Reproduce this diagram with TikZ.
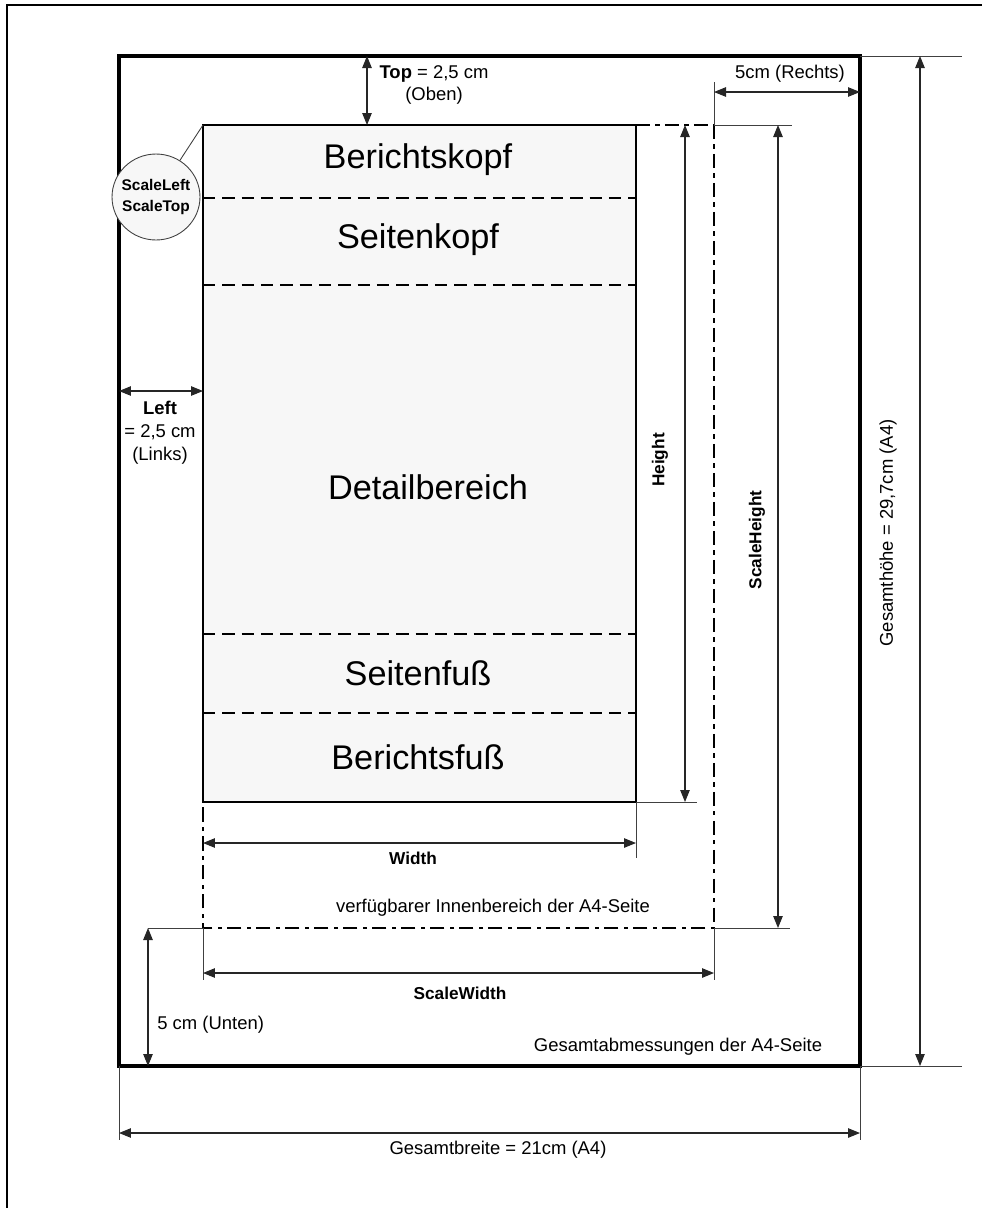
\documentclass[tikz,border=0pt]{standalone}
\usepackage{fontspec}
\setmainfont{Liberation Sans}
\usetikzlibrary{arrows.meta,shapes.geometric}

\begin{document}
\begin{tikzpicture}[x=0.02cm,y=-0.02cm]

\tikzstyle{every node}=[inner sep=0pt,anchor=center,font=\fontsize{10.5}{13}\selectfont];
\tikzstyle{dim}=[{Triangle[length=2.4mm,width=1.9mm]}-{Triangle[length=2.4mm,width=1.9mm]},line width=0.6pt,black!85]
\tikzstyle{ext}=[line width=0.5pt,black!75]
\tikzstyle{section}=[font=\fontsize{19.5}{24}\selectfont]
\tikzstyle{boldlbl}=[font=\fontsize{9.8}{12.5}\selectfont\bfseries]
\tikzstyle{sep}=[dash pattern=on 7pt off 4pt,line width=0.8pt]
\tikzstyle{scaleline}=[dash pattern=on 8pt off 3pt on 2.5pt off 3pt,line width=1.2pt]

\useasboundingbox (0,0) rectangle (982,1208);

% Outer frame (cut off at right and bottom)
\draw[line width=0.6pt] (7,1208) -- (7,5) -- (982,5);

% Corners of the areas
\coordinate (a4nw) at (119,56);
\coordinate (a4se) at (860,1066);
\coordinate (repnw) at (203,125);
\coordinate (repse) at (636,802);
\coordinate (scase) at (714,928);

% Report area with its sections
\draw[fill=black!3,line width=1.5pt] (repnw) rectangle (repse);
\foreach \y in {198,285,634,713}
  \draw[sep] (203,\y) -- (636,\y);

\node[section] (rkopf) at (418,160) {Berichtskopf};
\node[section] (skopf) at (418,240) {Seitenkopf};
\node[section] (detail) at (428,487) {Detailbereich};
\node[section] (sfuss) at (418,673) {Seitenfuß};
\node[section] (rfuss) at (418,757) {Berichtsfuß};

% A4 page
\draw[line width=1.8pt] (a4nw) rectangle (a4se);

% Usable inner area
\draw[scaleline] (repse |- repnw) -- (scase |- repnw);
\draw[scaleline] (scase |- repnw) -- (scase) -- (scase -| repnw) -- (repnw |- repse);

% Extension lines
\draw[ext] (714,82) -- (scase |- repnw) -- (792,125);
\draw[ext] (repse) -- (697,802);
\draw[ext] (repse) -- (636,858);
\draw[ext] (148,928) -- (scase -| repnw);
\draw[ext] (scase) -- (790,928);
\draw[ext] (scase -| repnw) -- (203,980);
\draw[ext] (scase) -- (714,980);
\draw[ext] (a4se |- a4nw) -- (962,56);
\draw[ext] (a4se) -- (962,1066);
\draw[ext] (a4nw |- a4se) -- (119,1140);
\draw[ext] (a4se) -- (860,1140);

% Dimension arrows
\coordinate (topdim) at (367,56);
\coordinate (rechtsdim) at (714,92);
\coordinate (leftdim) at (119,391);
\coordinate (heightdim) at (685,125);
\coordinate (sheightdim) at (778,125);
\coordinate (gheightdim) at (920,56);
\coordinate (widthdim) at (203,843);
\coordinate (swidthdim) at (203,973);
\coordinate (untendim) at (148,928);
\coordinate (gwidthdim) at (119,1133);

\draw[dim] (topdim) -- (topdim |- repnw);
\draw[dim] (rechtsdim) -- (rechtsdim -| a4se);
\draw[dim] (leftdim) -- (leftdim -| repnw);
\draw[dim] (heightdim) -- (heightdim |- repse);
\draw[dim] (sheightdim) -- (sheightdim |- scase);
\draw[dim] (gheightdim) -- (gheightdim |- a4se);
\draw[dim] (widthdim) -- (widthdim -| repse);
\draw[dim] (swidthdim) -- (swidthdim -| scase);
\draw[dim] (untendim) -- (untendim |- a4se);
\draw[dim] (gwidthdim) -- (gwidthdim -| a4se);

% Labels
\node[align=center] (toplbl) at (434,85) {\textbf{Top} = 2,5 cm\\(Oben)};
\node (rechtslbl) at (790,74) {5cm (Rechts)};
\node[align=center] (leftlbl) at (160,433) {\textbf{Left}\\= 2,5 cm\\(Links)};
\node[boldlbl,rotate=90] (heightlbl) at (660,460) {Height};
\node[boldlbl,rotate=90] (sheightlbl) at (757,540) {ScaleHeight};
\node[rotate=90] (gheightlbl) at (888,533) {Gesamthöhe = 29,7cm (A4)};
\node[boldlbl] (widthlbl) at (413,858) {Width};
\node (innenlbl) at (493,908) {verfügbarer Innenbereich der A4-Seite};
\node[boldlbl] (swidthlbl) at (460,993) {ScaleWidth};
\node[anchor=west] (untenlbl) at (157,1025) {5 cm (Unten)};
\node (gesamtlbl) at (678,1047) {Gesamtabmessungen der A4-Seite};
\node (gwidthlbl) at (498,1150) {Gesamtbreite = 21cm (A4)};

% Note for the origin
\node[ellipse,draw=black!75,line width=0.5pt,fill=black!3,minimum width=1.76cm,minimum height=1.72cm] (scalenote) at (156,197) {};
\node[align=center,font=\fontsize{8.8}{12.5}\selectfont\bfseries] (scaletxt) at (scalenote) {ScaleLeft\\ScaleTop};
\draw[ext] (scalenote) -- (repnw);

\end{tikzpicture}
\end{document}
